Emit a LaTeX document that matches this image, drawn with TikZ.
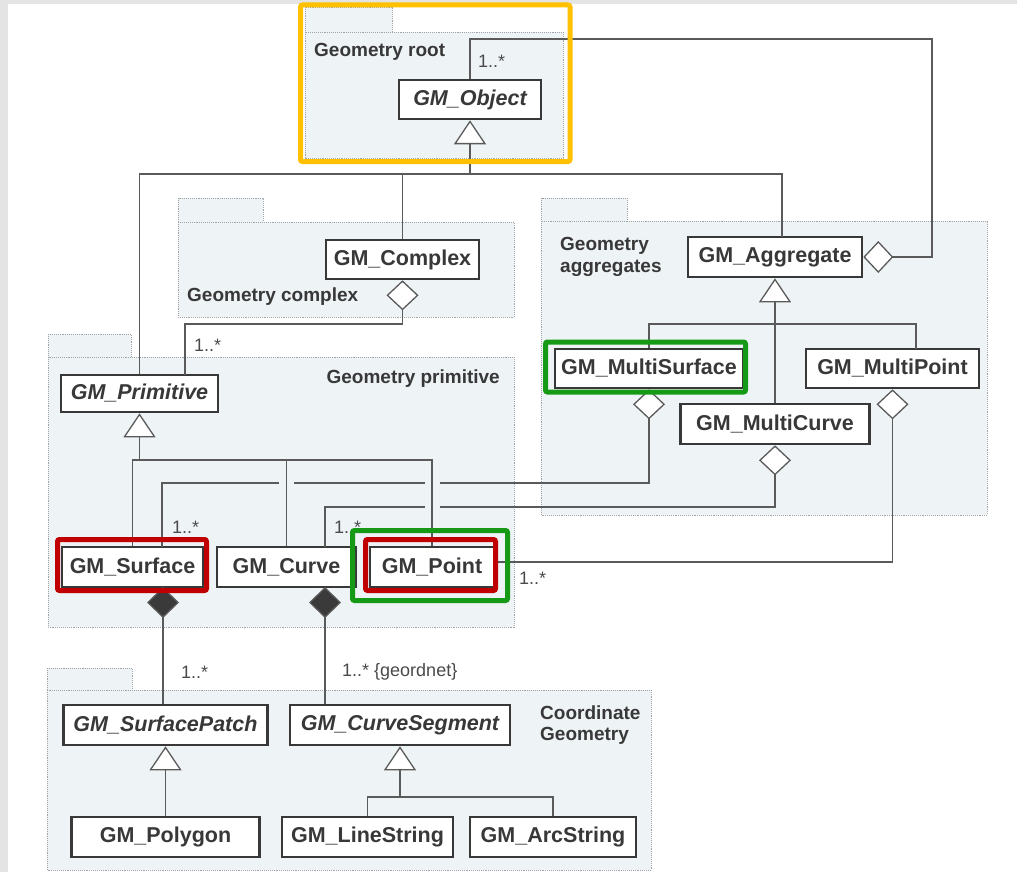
\documentclass[tikz,border=0pt]{standalone}
\usepackage{fontspec}
\setmainfont{Liberation Sans}
\usetikzlibrary{arrows.meta}
\definecolor{linec}{HTML}{5A5A5A}
\definecolor{boxc}{HTML}{383838}
\definecolor{txtc}{HTML}{383838}
\definecolor{multc}{HTML}{4A4A4A}
\definecolor{pkgfill}{HTML}{EEF3F6}
\definecolor{pkgdraw}{HTML}{A0A4A8}
\definecolor{bandc}{HTML}{E4E4E4}
\definecolor{hlorange}{HTML}{FFC000}
\definecolor{hlgreen}{HTML}{169A16}
\definecolor{hlred}{HTML}{C00000}
\definecolor{compc}{HTML}{3A3A3A}
\newcommand\clsfnt{\fontsize{21.5}{24}\selectfont\bfseries}
\newcommand\pkgfnt{\fontsize{19}{21.5}\selectfont\bfseries}
\newcommand\mulfnt{\fontsize{18}{20}\selectfont}
\begin{document}
\begin{tikzpicture}[x=1pt,y=-1pt,
 cls/.style={draw=boxc, line width=2.6pt, fill=white, text=txtc, font=\clsfnt, inner sep=0pt, minimum height=40pt},
 pkg/.style={fill=pkgfill, draw=pkgdraw, densely dotted, line width=0.9pt},
 pkglabel/.style={text=txtc, font=\pkgfnt, inner sep=0pt},
 mult/.style={text=multc, font=\mulfnt, inner sep=0pt, anchor=west},
 conn/.style={draw=linec, line width=1.3pt},
 gen/.style={conn, -{Triangle[length=24pt, width=32pt, fill=white]}},
 agg/.style={conn, {Diamond[length=30pt, width=32pt, fill=white]}-},
 comp/.style={conn, {Diamond[length=31pt, width=32pt, fill=compc]}-},
 hl/.style={line width=5pt, rounded corners=2pt}
]
\useasboundingbox (0,0) rectangle (1017,872);
% background
\fill[white] (0,0) rectangle (1017,872);
\fill[bandc] (0,0) rectangle (8,872);
\fill[bandc] (0,0) rectangle (1017,4);

% packages
\draw[pkg] (305,7) rectangle (392,32);
\draw[pkg] (305,32) rectangle (563,158);
\draw[pkg] (178,198) rectangle (263,222);
\draw[pkg] (178,222) rectangle (514,317);
\draw[pkg] (48,334) rectangle (131,357);
\draw[pkg] (48,357) rectangle (514,627);
\draw[pkg] (541,198) rectangle (627,221);
\draw[pkg] (541,221) rectangle (987,515);
\draw[pkg] (47,668) rectangle (132,690);
\draw[pkg] (47,690) rectangle (651,870);

% package labels and multiplicities
\node[pkglabel, anchor=west] (lroot) at (314,52) {Geometry root};
\node[mult] (m1) at (478,61) {1..*};
\node[pkglabel, anchor=west] (lcomplex) at (187,297) {Geometry complex};
\node[mult] (m2) at (194,345) {1..*};
\node[pkglabel, anchor=east] (lprim) at (500,379) {Geometry primitive};
\node[pkglabel, anchor=west, align=left] (lagg) at (560,257) {Geometry\\aggregates};
\node[mult] (m3) at (172,527) {1..*};
\node[mult] (m4) at (334,527) {1..*};
\node[mult] (m5) at (519,578) {1..*};
\node[mult] (m6) at (181,672) {1..*};
\node[mult] (m7) at (342,672) {1..* \{geordnet\}};
\node[pkglabel, anchor=west, align=left] (lcoord) at (540,725) {Coordinate\\Geometry};

% classes
\node[cls, minimum width=142pt, minimum height=39pt, font=\clsfnt\itshape] (obj) at (470,99.5) {GM\_Object};
\node[cls, minimum width=153pt, minimum height=39pt] (complex) at (402.5,259.5) {GM\_Complex};
\node[cls, minimum width=174pt] (aggr) at (775,257) {GM\_Aggregate};
\node[cls, minimum width=157pt, minimum height=37pt, font=\clsfnt\itshape] (prim) at (139.5,393.5) {GM\_Primitive};
\node[cls, minimum width=188pt, minimum height=39pt] (msurf) at (649,368.5) {GM\_MultiSurface};
\node[cls, minimum width=173pt, minimum height=39pt] (mpoint) at (892.5,368.5) {GM\_MultiPoint};
\node[cls, minimum width=189pt] (mcurve) at (775,424) {GM\_MultiCurve};
\node[cls, minimum width=141pt] (surf) at (132.5,567) {GM\_Surface};
\node[cls, minimum width=139pt] (curve) at (286.5,567) {GM\_Curve};
\node[cls, minimum width=124pt] (point) at (432,567) {GM\_Point};
\node[cls, minimum width=204pt, font=\clsfnt\itshape] (patch) at (165.5,725) {GM\_SurfacePatch};
\node[cls, minimum width=220pt, font=\clsfnt\itshape] (cseg) at (400,725) {GM\_CurveSegment};
\node[cls, minimum width=188pt] (poly) at (165.5,837) {GM\_Polygon};
\node[cls, minimum width=171pt] (lstr) at (367.5,837) {GM\_LineString};
\node[cls, minimum width=166pt] (astr) at (553,837) {GM\_ArcString};

% helper coordinates
\coordinate (j0) at (470,174);
\coordinate (aggin) at (782,237);
\coordinate (a1) at (932,39);
\coordinate (c1) at (185,324);
\coordinate (cp) at (185,375);
\coordinate (j1) at (139.5,460);
\coordinate (ms1) at (440,483);
\coordinate (ms2) at (425,483);
\coordinate (ms3) at (294,483);
\coordinate (ms4) at (279,483);
\coordinate (surfin) at (162,547);
\coordinate (mc1) at (440,507);
\coordinate (mc2) at (425,507);
\coordinate (curvein) at (325,547);
\coordinate (pin) at (494,562);
\coordinate (j2) at (775,324);
\coordinate (mpin) at (916,349);
\coordinate (sd) at (163,587);
\coordinate (cd) at (325,587);
\coordinate (j3) at (400,797);

% connectors
\draw[gen] (j0) -- (obj.south);
\draw[conn] (prim.north) |- (j0) -| (aggin);
\draw[conn] (complex.north) -- (complex.north |- j0);
\draw[agg] (aggr.east) -| (a1) -| (obj.north);
\draw[agg] (complex.south) |- (c1) -- (cp);
\draw[gen] (j1) -- (prim.south);
\draw[conn] (surf.north) |- (j1) -| (point.north);
\draw[conn] (curve.north) -- (curve.north |- j1);
\draw[agg] (msurf.south) |- (ms1);
\draw[conn] (ms2) -- (ms3);
\draw[conn] (ms4) -| (surfin);
\draw[agg] (mcurve.south) |- (mc1);
\draw[conn] (mc2) -| (curvein);
\draw[agg] (mpoint.south) |- (pin);
\draw[gen] (mcurve.north) -- (aggr.south);
\draw[conn] (msurf.north) |- (j2) -| (mpin);
\draw[comp] (sd) -- (sd |- patch.north);
\draw[comp] (cd) -- (cd |- cseg.north);
\draw[gen] (poly.north) -- (patch.south);
\draw[gen] (j3) -- (cseg.south);
\draw[conn] (lstr.north) |- (j3) -| (astr.north);

% highlights
\draw[hlorange, hl] (300.5,5) rectangle (570,161.5);
\draw[hlgreen, hl] (545.5,342) rectangle (745.5,392);
\draw[hlgreen, hl] (352.5,530.5) rectangle (507.5,600.5);
\draw[hlred, hl] (365.5,539.5) rectangle (495.5,590.5);
\draw[hlred, hl] (57.5,539.5) rectangle (206.5,590.5);
\end{tikzpicture}
\end{document}
